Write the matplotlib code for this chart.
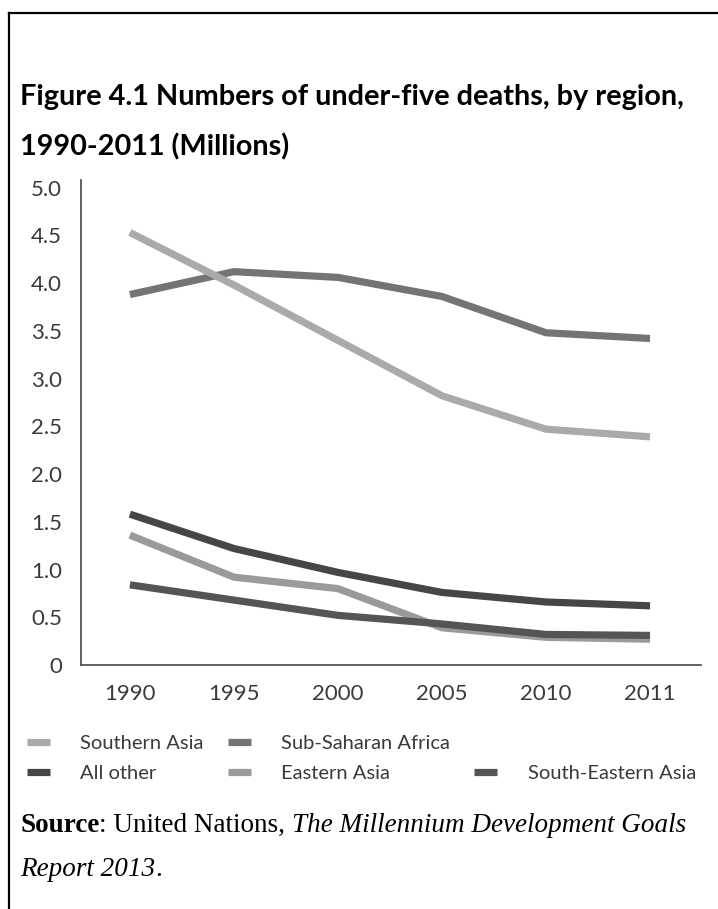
import matplotlib
matplotlib.use("Agg")
import matplotlib.pyplot as plt
from matplotlib.lines import Line2D

# DATA (millions of under-five deaths)
years = ['1990', '1995', '2000', '2005', '2010', '2011']
southern_asia = [4.53, 3.98, 3.40, 2.82, 2.47, 2.39]
sub_saharan = [3.88, 4.12, 4.06, 3.86, 3.48, 3.42]
all_other = [1.58, 1.22, 0.97, 0.76, 0.66, 0.62]
eastern_asia = [1.36, 0.92, 0.80, 0.39, 0.29, 0.27]
south_eastern = [0.84, 0.68, 0.52, 0.43, 0.32, 0.31]
y_ticks = [0, 0.5, 1.0, 1.5, 2.0, 2.5, 3.0, 3.5, 4.0, 4.5, 5.0]
y_tick_labels = ['0', '0.5', '1.0', '1.5', '2.0', '2.5', '3.0', '3.5', '4.0', '4.5', '5.0']

title_lines = ["Figure 4.1 Numbers of under-five deaths, by region,", "1990-2011 (Millions)"]

W, H, DPI = 718, 909, 100
fig = plt.figure(figsize=(W / DPI, H / DPI), dpi=DPI)
fig.patch.set_facecolor('white')

# frame of the box (only top and left visible in the crop)
fig.add_artist(Line2D([8.5 / W, 8.5 / W], [0, 1 - 13 / H], color='black', lw=1.6))
fig.add_artist(Line2D([8.5 / W, 1], [1 - 13 / H, 1 - 13 / H], color='black', lw=1.6))

for i, line in enumerate(title_lines):
    fig.text(20 / W, 1 - (97 + 50 * i) / H, line, ha='left', va='center', fontsize=20.8,
             fontweight='bold', family='Lato', color='black')

ax = fig.add_axes([81 / W, 1 - 665 / H, (701 - 81) / W, (665 - 180) / H])
x = list(range(len(years)))
lw = 5.2
style = dict(lw=lw, solid_joinstyle='round', solid_capstyle='butt')
ln_ssa, = ax.plot(x, sub_saharan, color='#747474', **style)
ln_sa, = ax.plot(x, southern_asia, color='#aaaaaa', **style)
ln_ao, = ax.plot(x, all_other, color='#464646', **style)
ln_ea, = ax.plot(x, eastern_asia, color='#9a9a9a', **style)
ln_sea, = ax.plot(x, south_eastern, color='#555555', **style)

ax.set_xlim(-0.47, 5.49)
ax.set_ylim(0, 5.08)
ax.set_xticks(x)
ax.set_xticklabels(years)
ax.set_yticks(y_ticks)
ax.set_yticklabels(y_tick_labels)
ax.tick_params(length=0, labelsize=16, labelcolor='#3a3a3a')
ax.tick_params(axis='y', pad=13.5)
ax.tick_params(axis='x', pad=14)
for lab in ax.get_xticklabels() + ax.get_yticklabels():
    lab.set_family('Lato')
for s in ['top', 'right']:
    ax.spines[s].set_visible(False)
for s in ['left', 'bottom']:
    ax.spines[s].set_color('#555555')
    ax.spines[s].set_linewidth(1.3)

# legend: blank entry to push South-Eastern Asia into the second row
blank = Line2D([], [], color='none')
handles = [ln_sa, ln_ao, ln_ssa, ln_ea, blank, ln_sea]
labels = ['Southern Asia', 'All other', 'Sub-Saharan Africa', 'Eastern Asia', '', 'South-Eastern Asia']
leg = ax.legend(handles, labels, ncol=3, loc='upper left',
                bbox_to_anchor=(27 / W, 1 - 735 / H), bbox_transform=fig.transFigure,
                frameon=False, borderpad=0, borderaxespad=0, handlelength=1.15,
                handletextpad=1.5, columnspacing=1.2, labelspacing=0.62,
                prop={'family': 'Lato', 'size': 14.5})
for t in leg.get_texts():
    t.set_color('#3a3a3a')

# source note, pieces chained so the mixed styles sit on one line
src_size = 19.5
t1 = fig.text(20 / W, 1 - 838 / H, "Source", fontsize=src_size, family='Liberation Serif',
              fontweight='bold', va='bottom')
t2 = ax.annotate(": United Nations, ", xy=(1, 0), xycoords=t1, va='bottom',
                 fontsize=src_size, family='Liberation Serif')
t3 = ax.annotate("The Millennium Development Goals", xy=(1, 0), xycoords=t2, va='bottom',
                 fontsize=src_size, family='Liberation Serif', style='italic')
t4 = fig.text(20 / W, 1 - 882 / H, "Report 2013", fontsize=src_size, family='Liberation Serif',
              style='italic', va='bottom')
ax.annotate(".", xy=(1, 0), xycoords=t4, va='bottom', fontsize=src_size, family='Liberation Serif')

fig.savefig('out.png', dpi=DPI)
